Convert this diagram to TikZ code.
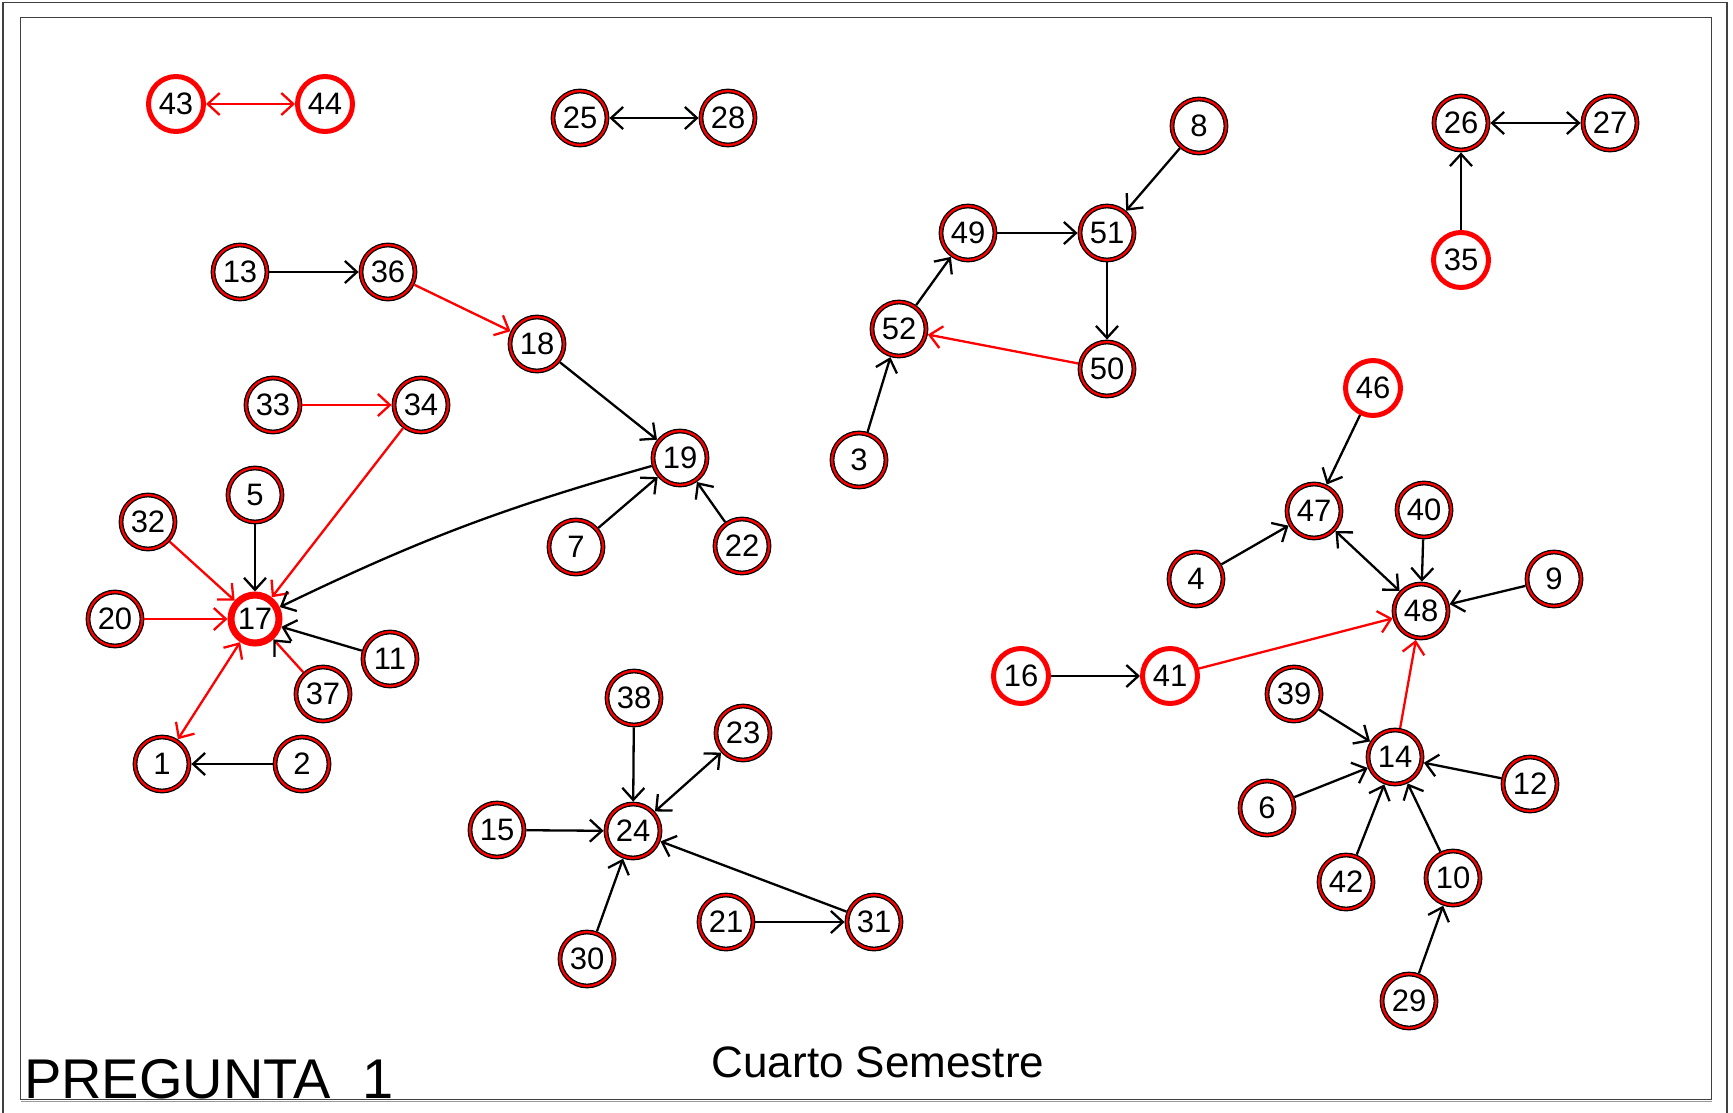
\documentclass[tikz,border=0pt]{standalone}
\usepackage{fontspec}
\setmainfont{Liberation Sans}
\usetikzlibrary{arrows.meta}
\begin{document}
\begin{tikzpicture}[x=1pt,y=-1pt,
  vtx/.style={circle, draw=black, line width=1.3pt, double=red, double distance=2.2pt, fill=white,
    minimum size=54pt, inner sep=0pt, outer sep=2.4pt, font=\fontsize{31}{31}\selectfont},
  rvtx/.style={circle, draw=red, line width=5pt, fill=white,
    minimum size=55pt, inner sep=0pt, outer sep=2.5pt, font=\fontsize{31}{31}\selectfont},
  hub/.style={rvtx, line width=7pt, minimum size=48pt, outer sep=3.5pt},
  tipb/.tip={Straight Barb[length=12pt,width=22pt]},
  bk/.style={draw=black, line width=2.3pt, -tipb},
  rd/.style={draw=red, line width=2.3pt, -tipb},
  bkb/.style={draw=black, line width=2.3pt, tipb-tipb},
  rdb/.style={draw=red, line width=2.3pt, tipb-tipb},
  frm/.style={draw=black!75, line width=1.6pt}
]
\useasboundingbox (0,0) rectangle (1733,1112);
\begin{scope}
\clip (0,0) rectangle (1733,1112);
\draw[frm] (3,1130) -- (3,2.5) -- (1727,2.5) -- (1727,1130);
\draw[frm] (20.5,17.5) rectangle (1711.5,1099.5);
\draw[draw=black!40, line width=1pt] (21,1101.5) -- (1712,1101.5);
\end{scope}

% nodes
\node[rvtx] (n43) at (176,104) {43};
\node[rvtx] (n44) at (325,104) {44};
\node[vtx] (n25) at (580,118) {25};
\node[vtx] (n28) at (728,118) {28};
\node[vtx] (n8) at (1199,126) {8};
\node[vtx] (n26) at (1461,123) {26};
\node[vtx] (n27) at (1610,123) {27};
\node[rvtx] (n35) at (1461,260) {35};
\node[vtx] (n13) at (240,272) {13};
\node[vtx] (n36) at (388,272) {36};
\node[vtx] (n49) at (968,233) {49};
\node[vtx] (n51) at (1107,233) {51};
\node[vtx] (n18) at (537,344) {18};
\node[vtx] (n52) at (899,329) {52};
\node[vtx] (n50) at (1107,369) {50};
\node[vtx] (n33) at (273,405) {33};
\node[vtx] (n34) at (421,405) {34};
\node[rvtx] (n46) at (1373,388) {46};
\node[vtx] (n3) at (859,460) {3};
\node[vtx] (n19) at (680,458) {19};
\node[vtx] (n5) at (255,495) {5};
\node[vtx] (n32) at (148,522) {32};
\node[vtx] (n47) at (1314,511) {47};
\node[vtx] (n40) at (1424,510) {40};
\node[vtx] (n7) at (576,547) {7};
\node[vtx] (n22) at (742,546) {22};
\node[vtx] (n4) at (1196,579) {4};
\node[vtx] (n9) at (1554,579) {9};
\node[hub] (n17) at (255,619) {17};
\node[vtx] (n20) at (115,619) {20};
\node[vtx] (n48) at (1421,611) {48};
\node[vtx] (n11) at (390,659) {11};
\node[rvtx] (n16) at (1021,676) {16};
\node[rvtx] (n41) at (1170,676) {41};
\node[vtx] (n37) at (323,694) {37};
\node[vtx] (n39) at (1294,694) {39};
\node[vtx] (n38) at (634,698) {38};
\node[vtx] (n23) at (743,733) {23};
\node[vtx] (n1) at (162,764) {1};
\node[vtx] (n2) at (302,764) {2};
\node[vtx] (n14) at (1395,757) {14};
\node[vtx] (n12) at (1530,784) {12};
\node[vtx] (n6) at (1267,808) {6};
\node[vtx] (n15) at (497,830) {15};
\node[vtx] (n24) at (633,831) {24};
\node[vtx] (n42) at (1346,882) {42};
\node[vtx] (n10) at (1453,878) {10};
\node[vtx] (n21) at (726,922) {21};
\node[vtx] (n31) at (874,922) {31};
\node[vtx] (n30) at (587,959) {30};
\node[vtx] (n29) at (1409,1001) {29};

% edges
\draw[rdb] (n43) -- (n44);
\draw[bkb] (n25) -- (n28);
\draw[bkb] (n26) -- (n27);
\draw[bk] (n35) -- (n26);
\draw[bk] (n8) -- (n51);
\draw[bk] (n49) -- (n51);
\draw[bk] (n51) -- (n50);
\draw[rd] (n50) -- (n52);
\draw[bk] (n52) -- (n49);
\draw[bk] (n3) -- (n52);
\draw[bk] (n13) -- (n36);
\draw[rd] (n36) -- (n18);
\draw[bk] (n18) -- (n19);
\draw[rd] (n33) -- (n34);
\draw[rd] (n34) -- (n17);
\draw[bk] (n19) to[bend right=5] (n17);
\draw[bk] (n7) -- (n19);
\draw[bk] (n22) -- (n19);
\draw[bk] (n5) -- (n17);
\draw[rd] (n32) -- (n17);
\draw[rd] (n20) -- (n17);
\draw[bk] (n11) -- (n17);
\draw[draw=red, line width=2.3pt, -{Straight Barb[length=12pt,width=22pt,color=black]}] (n37) -- (n17);
\draw[rdb] (n17) -- (n1);
\draw[bk] (n2) -- (n1);
\draw[bk] (n38) -- (n24);
\draw[bkb] (n24) -- (n23);
\draw[bk] (n15) -- (n24);
\draw[bk] (n30) -- (n24);
\draw[bk] (n31) -- (n24);
\draw[bk] (n21) -- (n31);
\draw[bk] (n46) -- (n47);
\draw[bk] (n4) -- (n47);
\draw[bkb] (n47) -- (n48);
\draw[bk] (n40) -- (n48);
\draw[bk] (n9) -- (n48);
\draw[rd] (n41) -- (n48);
\draw[rd] (n14) -- (n48);
\draw[bk] (n16) -- (n41);
\draw[bk] (n39) -- (n14);
\draw[bk] (n6) -- (n14);
\draw[bk] (n12) -- (n14);
\draw[bk] (n42) -- (n14);
\draw[bk] (n10) -- (n14);
\draw[bk] (n29) -- (n10);

% texts
\node[anchor=base west, inner sep=0pt, font=\fontsize{56}{56}\selectfont] (title) at (24,1098) {PREGUNTA\ \ 1};
\node[anchor=base, inner sep=0pt, font=\fontsize{44}{44}\selectfont] (sub) at (878,1077) {Cuarto Semestre};
\end{tikzpicture}
\end{document}
